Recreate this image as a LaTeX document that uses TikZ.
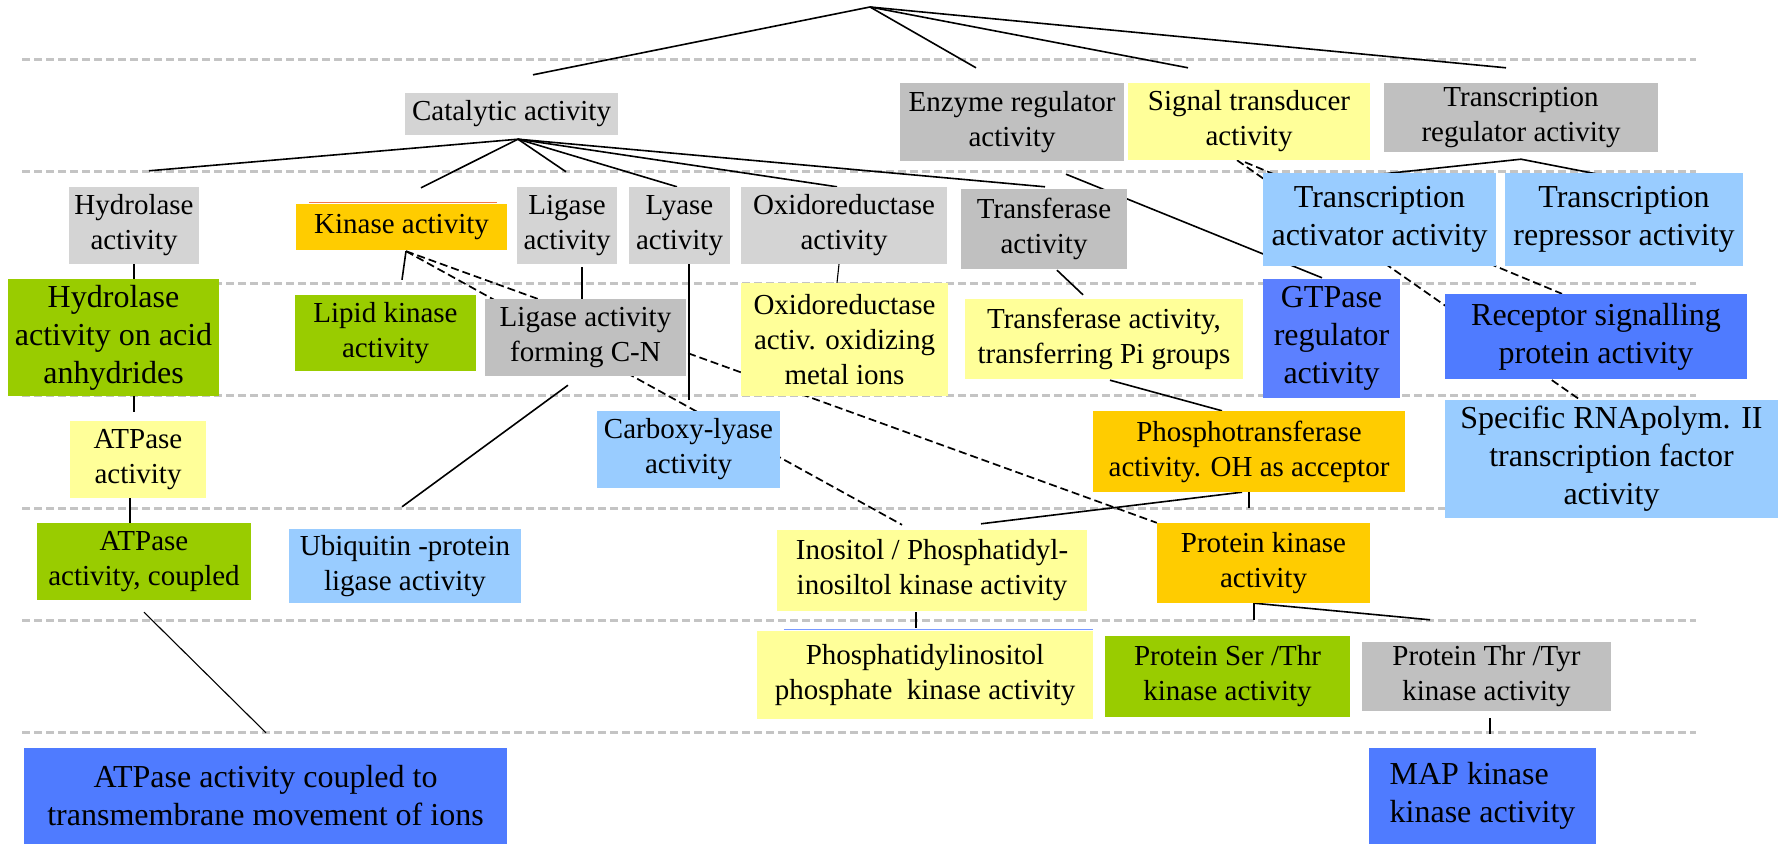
\documentclass[tikz,border=0pt]{standalone}
\usepackage{fontspec}
\setmainfont{Liberation Serif}
\usetikzlibrary{calc}
\pgfdeclarelayer{background}
\pgfsetlayers{background,main}
\definecolor{lgray}{HTML}{D4D4D4}
\definecolor{mgray}{HTML}{C0C0C0}
\definecolor{yel}{HTML}{FFFF99}
\definecolor{org}{HTML}{FFCC00}
\definecolor{grn}{HTML}{99CC00}
\definecolor{lblu}{HTML}{99CCFF}
\definecolor{blu}{HTML}{4F7BFF}
\definecolor{bluB}{HTML}{5C80FF}
\definecolor{gridc}{HTML}{C4C4C4}
\definecolor{coral}{HTML}{F07850}
\definecolor{thinblue}{HTML}{7799FF}
\newcommand{\fsA}{\fontsize{29}{35}\selectfont}
\newcommand{\fsB}{\fontsize{32}{38}\selectfont}
\begin{document}
\begin{tikzpicture}[x=1pt,y=-1pt,
  box/.style={rectangle, inner sep=0pt, align=center, text=black, font=\fsA},
  bigbox/.style={box, font=\fsB},
  gridline/.style={draw=gridc, line width=3pt, dash pattern=on 8pt off 4pt},
  conn/.style={draw=black, line width=1.6pt},
  thin/.style={draw=black, line width=1.1pt},
  dconn/.style={draw=black, line width=1.7pt, dash pattern=on 8pt off 4pt}]
\useasboundingbox (0,0) rectangle (1791,858);

% boxes
\node[box, fill=lgray, minimum width=213pt, minimum height=42pt] (cat) at (511.5,114) {Catalytic activity};
\node[box, fill=mgray, minimum width=224pt, minimum height=78pt] (enz) at (1012,122) {Enzyme regulator\\activity};
\node[box, fill=yel, minimum width=242pt, minimum height=77pt] (sig) at (1249,121.5) {Signal transducer\\activity};
\node[box, fill=mgray, minimum width=274pt, minimum height=69pt] (trr) at (1521,117.5) {Transcription\\regulator activity};
\node[box, fill=lgray, minimum width=130pt, minimum height=77pt] (hyd) at (134,225.5) {Hydrolase\\activity};
\node[box, fill=org, minimum width=211pt, minimum height=46pt] (kin) at (401.5,227) {Kinase activity};
\node[box, fill=lgray, minimum width=100pt, minimum height=77pt] (lig) at (567,225.5) {Ligase\\activity};
\node[box, fill=lgray, minimum width=101pt, minimum height=77pt] (lya) at (679.5,225.5) {Lyase\\activity};
\node[box, fill=lgray, minimum width=206pt, minimum height=77pt] (oxi) at (844,225.5) {Oxidoreductase\\activity};
\node[box, fill=mgray, minimum width=166pt, minimum height=80pt] (tra) at (1044,229) {Transferase\\activity};
\node[bigbox, fill=lblu, minimum width=233pt, minimum height=93pt] (tac) at (1379.5,219.5) {Transcription\\activator activity};
\node[bigbox, fill=lblu, minimum width=238pt, minimum height=93pt] (tre) at (1624,219.5) {Transcription\\repressor activity};
\node[bigbox, fill=grn, minimum width=211pt, minimum height=117pt] (hya) at (113.5,337.5) {Hydrolase\\activity on acid\\anhydrides};
\node[box, fill=grn, minimum width=181pt, minimum height=76pt] (lip) at (385.5,333) {Lipid kinase\\activity};
\node[box, fill=mgray, minimum width=201pt, minimum height=77pt] (lcn) at (585.5,337.5) {Ligase activity\\forming C-N};
\node[box, fill=yel, minimum width=207pt, minimum height=113pt] (oxm) at (844.5,339.5) {Oxidoreductase\\activ. oxidizing\\metal ions};
\node[bigbox, fill=bluB, minimum width=137pt, minimum height=119pt] (gtp) at (1331.5,338.5) {GTPase\\regulator\\activity};
\node[box, fill=yel, minimum width=278pt, minimum height=80pt] (tpi) at (1104,339) {Transferase activity,\\transferring Pi groups};
\node[bigbox, fill=blu, minimum width=302pt, minimum height=85pt] (rec) at (1596,336.5) {Receptor signalling\\protein activity};
\node[box, fill=yel, minimum width=136pt, minimum height=77pt] (atp) at (138,459.5) {ATPase\\activity};
\node[box, fill=lblu, minimum width=183pt, minimum height=77pt] (cbx) at (688.5,449.5) {Carboxy-lyase\\activity};
\node[box, fill=org, minimum width=312pt, minimum height=81pt] (pho) at (1249,451.5) {Phosphotransferase\\activity. OH as acceptor};
\node[bigbox, fill=lblu, minimum width=333pt, minimum height=118pt] (srn) at (1611.5,459) {Specific RNApolym. II\\transcription factor\\activity};
\node[box, fill=grn, minimum width=214pt, minimum height=77pt] (atc) at (144,561.5) {ATPase\\activity, coupled};
\node[box, fill=lblu, minimum width=232pt, minimum height=74pt] (ubq) at (405,566) {Ubiquitin -protein\\ligase activity};
\node[box, fill=yel, minimum width=310pt, minimum height=81pt] (ino) at (932,570.5) {Inositol / Phosphatidyl-\\inosiltol kinase activity};
\node[box, fill=org, minimum width=213pt, minimum height=80pt] (pka) at (1263.5,563) {Protein kinase\\activity};
\node[box, fill=yel, minimum width=336pt, minimum height=88pt] (pip) at (925,675) {Phosphatidylinositol\\phosphate\ \ kinase activity};
\node[box, fill=grn, minimum width=245pt, minimum height=81pt] (pst) at (1227.5,676.5) {Protein Ser /Thr\\kinase activity};
\node[box, fill=mgray, minimum width=249pt, minimum height=69pt] (ptt) at (1486.5,676.5) {Protein Thr /Tyr\\kinase activity};
\node[bigbox, fill=blu, minimum width=483pt, minimum height=96pt] (atm) at (265.5,796) {ATPase activity coupled to\\transmembrane movement of ions};
\node[bigbox, fill=blu, align=left, minimum width=227pt, minimum height=96pt] (map) at (1482.5,796) {MAP kinase\\kinase activity};

% thin accent lines on box tops
\draw[coral, line width=1.2pt] ($(kin.north west)+(13,-1)$) -- ($(kin.north east)+(-10,-1)$);
\draw[thinblue, line width=1.2pt] ($(pip.north west)+(27,-1)$) -- ($(pip.north east)+(0,-1)$);

\coordinate (root) at (870,7);
\coordinate (catb) at ($(cat.south)+(6.5,4)$);
\coordinate (trra) at ($(trr.south)+(0,7)$);
\coordinate (kinb) at ($(kin.south)+(4.5,1)$);
\coordinate (pkab) at ($(pka.south)+(-9.5,0)$);

\begin{pgfonlayer}{background}
\foreach \yy in {60,172,284,396,508,620,732}
  \draw[gridline] (22,\yy) -- (1696,\yy);
% root
\draw[conn] (root) -- ($(cat.north)+(21.5,-18)$);
\draw[conn] (root) -- ($(enz.north)+(-36,-15)$);
\draw[conn] (root) -- ($(sig.north)+(-61,-15)$);
\draw[conn] (root) -- ($(trr.north)+(-15,-15)$);
% catalytic children
\draw[conn] (catb) -- ($(hyd.north)+(15,-16)$);
\draw[conn] (catb) -- ($(kin.north)+(19.5,-16)$);
\draw[conn] (catb) -- ($(lig.north)+(-1,-15)$);
\draw[conn] (catb) -- ($(lya.north)+(-2.5,0)$);
\draw[conn] (catb) -- ($(oxi.north)+(-7,0)$);
\draw[conn] (catb) -- ($(tra.north)+(1,-2)$);
% regulators
\draw[conn] ($(enz.south)+(54,13)$) -- ($(gtp.north)+(-9.5,-1)$);
\draw[conn] ($(tac.north)+(4.5,1)$) -- (trra) -- ($(tre.north)+(-28,1)$);
\draw[dconn] ($(sig.south)+(-4,2)$) -- ($(rec.north)+(-34,0)$);
\draw[dconn] ($(sig.south)+(-12,0)$) -- ($(srn.north)+(-31.5,0)$);
% transferase chain
\draw[conn] ($(tra.south)+(13,1)$) -- ($(tpi.north)+(-21,-4)$);
\draw[conn] ($(tpi.south)+(6,1)$) -- ($(pho.north)+(-27,0)$);
\draw[conn] (pho.south) -- ($(pka.north)+(-14.5,-15)$);
\draw[conn] ($(pho.south)+(-7,0)$) -- ($(ino.north)+(49,-6)$);
\draw[conn] (pkab) -- ($(pst.north)+(26.5,-16)$);
\draw[conn] (pkab) -- ($(ptt.north)+(-56.5,-22)$);
\draw[thin] ($(ino.south)+(-16,1)$) -- ($(pip.north)+(-9,-3)$);
\draw[thin] ($(ptt.south)+(3.5,7)$) -- ($(map.north)+(7.5,-14)$);
% hydrolase chain
\draw[thin] (hyd.south) -- ($(hya.north)+(20.5,0)$);
\draw[thin] ($(hya.south)+(20.5,0)$) -- ($(atp.north)+(-4,-9)$);
\draw[thin] ($(atp.south)+(-8,0)$) -- ($(atc.north)+(-14,0)$);
\draw[thin] ($(atc.south)+(0,12)$) -- ($(atm.north)+(0.5,-15)$);
% kinase
\draw[conn] (kinb) -- ($(lip.north)+(16.5,-15)$);
\draw[dconn] (kinb) -- ($(ino.north)+(-30,-5)$);
\draw[dconn] (kinb) -- (pka.north west);
% ligase, lyase, oxidoreductase
\draw[thin] ($(lig.south)+(15,3)$) -- ($(lcn.north)+(-3.5,0)$);
\draw[thin] ($(lya.south)+(9.5,0)$) -- ($(cbx.north)+(0.5,-11)$);
\draw[thin] ($(oxi.south)+(-5,0)$) -- ($(oxm.north)+(-7.5,0)$);
\draw[conn] ($(lcn.south)+(-17.5,9)$) -- ($(ubq.north)+(-3,-22)$);
\end{pgfonlayer}
\end{tikzpicture}
\end{document}
